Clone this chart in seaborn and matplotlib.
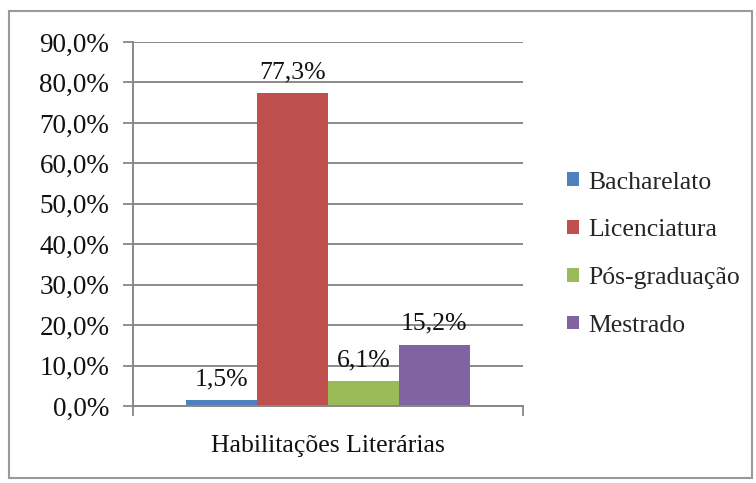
import matplotlib
matplotlib.use("Agg")
import matplotlib.pyplot as plt
import seaborn as sns
import pandas as pd
from matplotlib.patches import Rectangle, Patch
from matplotlib.ticker import FixedLocator

category = ["Habilitações Literárias"]
series = ["Bacharelato", "Licenciatura", "Pós-graduação", "Mestrado"]
values = [1.5, 77.3, 6.1, 15.2]
yticks = [0, 10, 20, 30, 40, 50, 60, 70, 80, 90]
colors = ["#4F81BD", "#C0504D", "#9BBB59", "#8064A2"]

df = pd.DataFrame({"cat": category * len(series), "serie": series, "val": values})

sns.set_theme(style="white")
plt.rcParams["font.family"] = ["Liberation Serif", "DejaVu Serif"]

fig = plt.figure(figsize=(7.56, 4.83), dpi=100)
ax = fig.add_axes([0.1759, 0.1594, 0.5159, 0.7536])

sns.barplot(data=df, x="cat", y="val", hue="serie", hue_order=series,
            palette=colors, width=0.726, dodge=True, ax=ax, legend=False,
            saturation=1, edgecolor="none", linewidth=0)

ax.set_ylim(0, 90)
ax.set_xlim(-0.5, 0.5)
ax.set_yticks(yticks)
ax.set_yticklabels([f"{v:.1f}%".replace(".", ",") for v in yticks], fontsize=19.5, color="#111111")
ax.set_xticks([0])
ax.set_xticklabels(category, fontsize=18.5, color="#111111")
ax.tick_params(axis="x", which="major", length=0, pad=21)
ax.xaxis.set_minor_locator(FixedLocator([-0.5, 0.5]))
ax.tick_params(axis="x", which="minor", length=7, width=1.3, color="#888888", bottom=True)
ax.tick_params(axis="y", which="major", length=7, width=1.3, color="#888888", left=True, pad=10)
ax.set_xlabel("")
ax.set_ylabel("")
ax.yaxis.grid(True, color="#8a8a8a", linewidth=1.4)
ax.set_axisbelow(True)
for s in ["top", "right"]:
    ax.spines[s].set_visible(False)
for s in ["left", "bottom"]:
    ax.spines[s].set_color("#888888")
    ax.spines[s].set_linewidth(1.4)

for cont in ax.containers:
    ax.bar_label(cont, labels=[f"{b.get_height():.1f}%".replace(".", ",") for b in cont],
                 fontsize=18.5, padding=7, color="#111111")

handles = [Patch(facecolor=c, edgecolor="none") for c in colors]
fig.legend(handles, series, loc="center left", bbox_to_anchor=(0.72, 0.474),
           frameon=False, fontsize=18.5, handlelength=0.45, handleheight=0.45,
           handletextpad=0.35, labelspacing=1.0)

fig.patches.append(Rectangle((9 / 756, 1 - 478 / 483), (752 - 9) / 756, (478 - 11) / 483,
                             transform=fig.transFigure, fill=False,
                             edgecolor="#9a9a9a", linewidth=1.5))

fig.savefig("out.png", dpi=100)
